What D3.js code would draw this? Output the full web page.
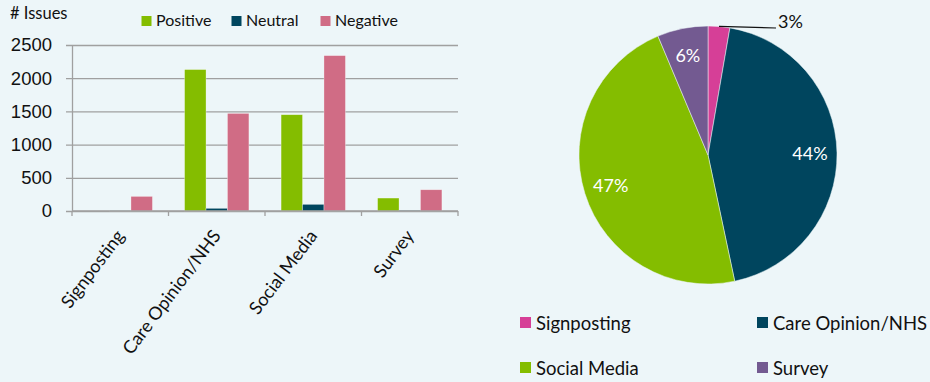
<!DOCTYPE html>
<html>
<head>
<meta charset="utf-8">
<script src="https://cdn.jsdelivr.net/npm/d3@7"></script>
<style>
  html, body { margin: 0; padding: 0; background: #EDF6F9; }
  svg { display: block; font-family: Lato, "Open Sans", sans-serif; }
</style>
</head>
<body>
<svg id="chart" width="930" height="382"></svg>
<script>
// Feedback sources and sentiment counts
const categories = ["Signposting", "Care Opinion/NHS", "Social Media", "Survey"];
const seriesNames = ["Positive", "Neutral", "Negative"];
const positive = [0, 2130, 1450, 195];
const neutral = [5, 40, 100, 10];
const negative = [220, 1470, 2340, 320];
const yTicks = [0, 500, 1000, 1500, 2000, 2500];

const seriesColors = ["#84BD00", "#00465F", "#D06C85"];
const pieColors = ["#D63F97", "#00455E", "#84BD00", "#735A91"];

const svg = d3.select("#chart");
svg.append("rect").attr("width", 930).attr("height", 382).attr("fill", "#EDF6F9");

// ---------- Clustered bar chart ----------
const seriesValues = [positive, neutral, negative];
const rows = categories.map((c, i) => ({
  category: c,
  values: seriesNames.map((s, k) => ({ series: s, value: seriesValues[k][i] }))
}));

const x0 = d3.scaleBand().domain(categories).range([72, 458]).paddingInner(0).paddingOuter(0);
const x1 = d3.scaleBand().domain(seriesNames).range([0, x0.bandwidth()]).paddingInner(0).paddingOuter(0.75);
const y = d3.scaleLinear().domain([0, 2500]).range([211, 45]);
const color = d3.scaleOrdinal().domain(seriesNames).range(seriesColors);

// gridlines + y labels
const yAxis = svg.append("g").attr("transform", "translate(72,0)")
  .call(d3.axisLeft(y).tickValues(yTicks).tickFormat(d3.format("d")).tickSize(6).tickPadding(14).tickSizeOuter(0));
yAxis.select(".domain").attr("stroke", "#A0A0A0").attr("stroke-width", 1.3);
yAxis.selectAll(".tick line").attr("stroke", "#A0A0A0").attr("stroke-width", 1.3).attr("x2", 458 - 72).attr("x1", -6);
yAxis.selectAll(".tick text").attr("font-size", 18.5).attr("fill", "#111");

// bars
const groups = svg.append("g").selectAll("g").data(rows).join("g")
  .attr("transform", d => `translate(${x0(d.category)},0)`);
groups.selectAll("rect").data(d => d.values).join("rect")
  .attr("x", d => x1(d.series))
  .attr("y", d => y(d.value))
  .attr("width", x1.bandwidth())
  .attr("height", d => y(0) - y(d.value))
  .attr("fill", d => color(d.series))
  .attr("stroke", "rgba(255,255,255,0.5)")
  .attr("stroke-width", 0.6);

// x axis with ticks at category boundaries
const xAxisG = svg.append("g");
xAxisG.append("line").attr("x1", 72).attr("x2", 458).attr("y1", y(0)).attr("y2", y(0))
  .attr("stroke", "#A0A0A0").attr("stroke-width", 1.3);
const boundaries = categories.map(c => x0(c)).concat([x0.range()[1]]);
xAxisG.selectAll("line.tk").data(boundaries).join("line").attr("class", "tk")
  .attr("x1", d => d).attr("x2", d => d).attr("y1", y(0)).attr("y2", y(0) + 5)
  .attr("stroke", "#A0A0A0").attr("stroke-width", 1.3);
xAxisG.selectAll("text").data(categories).join("text")
  .attr("transform", d => `translate(${x0(d) + x0.bandwidth() / 2 + 5},${y(0) + 25}) rotate(-53)`)
  .attr("text-anchor", "end")
  .attr("font-size", 18)
  .attr("fill", "#111")
  .text(d => d);

// axis title
svg.append("text").attr("x", 10).attr("y", 19).attr("font-size", 16.5).attr("fill", "#111").text("# Issues");

// bar legend
const legendX = [141.5, 231.5, 320.5];
const leg = svg.append("g").selectAll("g").data(seriesNames).join("g")
  .attr("transform", (d, i) => `translate(${legendX[i]},16)`);
leg.append("rect").attr("width", 10).attr("height", 10).attr("fill", d => color(d));
leg.append("text").attr("x", 14.5).attr("y", 10).attr("font-size", 16).attr("fill", "#111").text(d => d);

// ---------- Pie chart of issue totals by source ----------
const totals = categories.map((c, i) => positive[i] + neutral[i] + negative[i]);
const grand = d3.sum(totals);
const pieData = d3.pie().sort(null).value(d => d.total)(categories.map((c, i) => ({ category: c, total: totals[i] })));
const cx = 708, cy = 155, R = 129;
const pieColor = d3.scaleOrdinal().domain(categories).range(pieColors);
const arc = d3.arc().innerRadius(0).outerRadius(R);
const pg = svg.append("g").attr("transform", `translate(${cx},${cy})`);
pg.selectAll("path").data(pieData).join("path")
  .attr("d", arc)
  .attr("fill", d => pieColor(d.data.category))
  .attr("stroke", "#EDF6F9").attr("stroke-width", 0.5);

const pct = d => Math.round(d.data.total / grand * 100) + "%";
const labelArc = d3.arc().innerRadius(102).outerRadius(102);
pg.selectAll("text.in").data(pieData.filter(d => d.data.total / grand >= 0.05)).join("text")
  .attr("class", "in")
  .attr("transform", d => `translate(${labelArc.centroid(d)})`)
  .attr("text-anchor", "middle").attr("dy", "0.36em")
  .attr("font-size", 18).attr("fill", "#fff")
  .text(pct);

// small slice: label outside with a leader line
pieData.filter(d => d.data.total / grand < 0.05).forEach(d => {
  const a = (d.startAngle + d.endAngle) / 2;
  const px = R * Math.sin(a), py = -R * Math.cos(a);
  pg.append("line").attr("x1", px).attr("y1", py).attr("x2", 776 - cx).attr("y2", 28 - cy)
    .attr("stroke", "#111").attr("stroke-width", 1.2);
  pg.append("text").attr("x", 778 - cx).attr("y", 28 - cy)
    .attr("font-size", 18).attr("fill", "#111").text(pct(d));
});

// pie legend
const pieLegPos = [[520, 317], [757, 317], [520, 362], [757, 362]];
const pl = svg.append("g").selectAll("g").data(categories).join("g")
  .attr("transform", (d, i) => `translate(${pieLegPos[i][0]},${pieLegPos[i][1]})`);
pl.append("rect").attr("width", 11).attr("height", 11).attr("fill", d => pieColor(d));
pl.append("text").attr("x", 16).attr("y", 12.5).attr("font-size", 18.5).attr("fill", "#111").text(d => d);
</script>
</body>
</html>
